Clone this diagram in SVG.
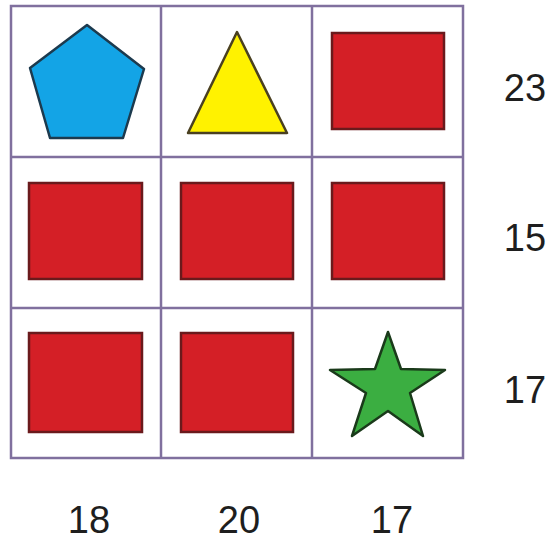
<svg xmlns="http://www.w3.org/2000/svg" width="546" height="542" viewBox="0 0 546 542">
<style>
.grid{stroke:#80709e;stroke-width:2.5;fill:none}
.sq{fill:#d41f26;stroke:#6a1a1c;stroke-width:2.5}
.lbl{font-family:"Liberation Sans",Arial,sans-serif;font-size:38px;fill:#1e1e1e;text-anchor:middle}
</style>
<rect width="546" height="542" fill="#ffffff"/>
<g id="grid">
<rect x="11" y="6" width="452" height="452" fill="#fefbfe" class="grid"/>
<line x1="161" y1="6" x2="161" y2="458" class="grid"/>
<line x1="312" y1="6" x2="312" y2="458" class="grid"/>
<line x1="11" y1="157" x2="463" y2="157" class="grid"/>
<line x1="11" y1="308" x2="463" y2="308" class="grid"/>
</g>
<g id="pentagon"><polygon points="87,25 144,69 123,138 50,138 30,68" fill="#13a4e6" stroke="#1c3a4e" stroke-width="2.5" stroke-linejoin="round"/></g>
<g id="triangle"><polygon points="237,32 287,133 188,133" fill="#fff200" stroke="#4a4020" stroke-width="2.5" stroke-linejoin="round"/></g>
<g id="sq13"><rect x="332" y="33" width="112" height="96" class="sq"/></g>
<g id="sq21"><rect x="29" y="183" width="113" height="96" class="sq"/></g>
<g id="sq22"><rect x="181" y="183" width="112" height="96" class="sq"/></g>
<g id="sq23"><rect x="332" y="183" width="112" height="96" class="sq"/></g>
<g id="sq31"><rect x="29" y="333" width="113" height="99" class="sq"/></g>
<g id="sq32"><rect x="181" y="333" width="112" height="99" class="sq"/></g>
<g id="star"><polygon points="388,332 401,369 445,370 410,393 423,436 388,411 352,436 366,393 330,370 375,369" fill="#3bae41" stroke="#1a3a1a" stroke-width="2.5" stroke-linejoin="round"/></g>
<g id="labels">
<text x="525" y="101" class="lbl">23</text>
<text x="525" y="251" class="lbl">15</text>
<text x="525" y="403" class="lbl">17</text>
<text x="89" y="533" class="lbl">18</text>
<text x="239" y="533" class="lbl">20</text>
<text x="392" y="533" class="lbl">17</text>
</g>
</svg>
